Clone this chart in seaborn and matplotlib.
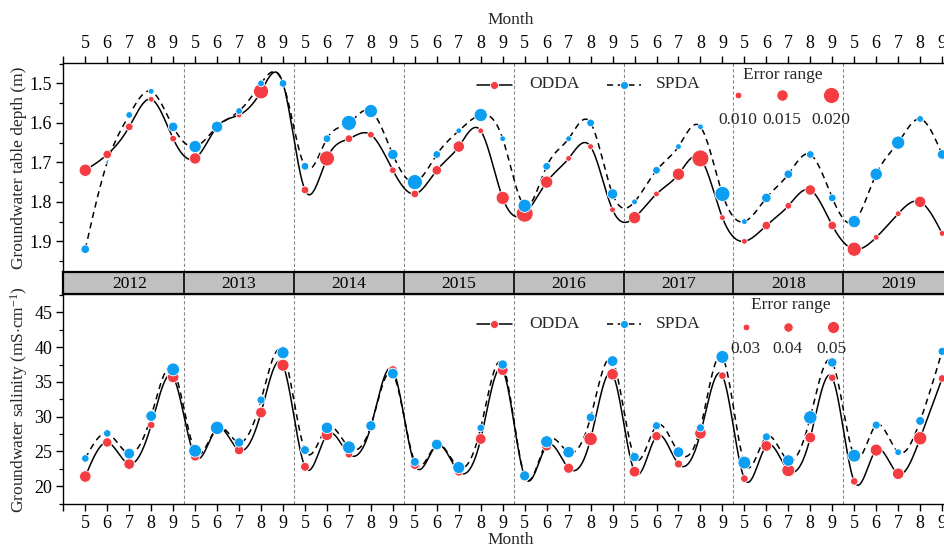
import numpy as np
import pandas as pd
import matplotlib
matplotlib.use("Agg")
import matplotlib.pyplot as plt
import seaborn as sns
from matplotlib.lines import Line2D

# ---------------- data ----------------
years = [2012, 2013, 2014, 2015, 2016, 2017, 2018, 2019]
months = [5, 6, 7, 8, 9]

depth_odda = [1.72, 1.68, 1.61, 1.54, 1.64,
              1.69, 1.61, 1.58, 1.52, 1.50,
              1.77, 1.69, 1.64, 1.63, 1.72,
              1.78, 1.72, 1.66, 1.62, 1.79,
              1.83, 1.75, 1.69, 1.66, 1.82,
              1.84, 1.78, 1.73, 1.69, 1.84,
              1.90, 1.86, 1.81, 1.77, 1.86,
              1.92, 1.89, 1.83, 1.80, 1.88]
depth_spda = [1.92, 1.70, 1.58, 1.52, 1.61,
              1.66, 1.61, 1.57, 1.50, 1.50,
              1.71, 1.64, 1.60, 1.57, 1.68,
              1.75, 1.68, 1.62, 1.58, 1.64,
              1.81, 1.71, 1.64, 1.60, 1.78,
              1.80, 1.72, 1.66, 1.61, 1.78,
              1.85, 1.79, 1.73, 1.68, 1.79,
              1.85, 1.73, 1.65, 1.59, 1.68]
depth_err_odda = [0.016, 0.012, 0.011, 0.009, 0.010,
                  0.015, 0.012, 0.009, 0.019, 0.010,
                  0.011, 0.019, 0.011, 0.010, 0.010,
                  0.011, 0.013, 0.015, 0.009, 0.017,
                  0.021, 0.016, 0.009, 0.009, 0.009,
                  0.016, 0.009, 0.016, 0.021, 0.009,
                  0.009, 0.012, 0.010, 0.014, 0.012,
                  0.018, 0.009, 0.009, 0.015, 0.009]
depth_err_spda = [0.012, 0.006, 0.010, 0.009, 0.013,
                  0.016, 0.015, 0.010, 0.010, 0.011,
                  0.011, 0.011, 0.019, 0.017, 0.014,
                  0.019, 0.011, 0.009, 0.017, 0.009,
                  0.017, 0.011, 0.009, 0.011, 0.014,
                  0.009, 0.011, 0.009, 0.009, 0.019,
                  0.009, 0.013, 0.012, 0.011, 0.011,
                  0.016, 0.016, 0.017, 0.010, 0.013]

sal_odda = [21.4, 26.3, 23.2, 28.8, 35.7,
            24.3, 28.3, 25.2, 30.6, 37.4,
            22.8, 27.4, 24.6, 28.6, 36.7,
            23.1, 25.9, 22.1, 26.8, 36.7,
            21.4, 25.8, 22.6, 26.8, 36.1,
            22.1, 27.2, 23.2, 27.6, 35.9,
            21.1, 25.8, 22.3, 27.0, 35.6,
            20.7, 25.2, 21.8, 26.9, 35.5]
sal_spda = [24.0, 27.6, 24.7, 30.1, 36.8,
            25.1, 28.4, 26.3, 32.4, 39.2,
            25.2, 28.4, 25.6, 28.7, 36.2,
            23.5, 26.0, 22.7, 28.4, 37.5,
            21.5, 26.4, 24.9, 29.9, 38.0,
            24.2, 28.7, 24.9, 28.4, 38.6,
            23.4, 27.1, 23.7, 29.9, 37.8,
            24.4, 28.8, 24.9, 29.4, 39.4]
sal_err_odda = [0.048, 0.040, 0.045, 0.033, 0.048,
                0.040, 0.040, 0.040, 0.045, 0.050,
                0.038, 0.048, 0.033, 0.038, 0.038,
                0.040, 0.040, 0.038, 0.045, 0.045,
                0.040, 0.043, 0.043, 0.055, 0.048,
                0.045, 0.040, 0.035, 0.048, 0.033,
                0.033, 0.045, 0.053, 0.045, 0.033,
                0.033, 0.050, 0.048, 0.055, 0.033]
sal_err_spda = [0.033, 0.033, 0.045, 0.045, 0.053,
                0.053, 0.055, 0.040, 0.035, 0.050,
                0.038, 0.048, 0.053, 0.043, 0.045,
                0.038, 0.045, 0.050, 0.033, 0.040,
                0.043, 0.050, 0.048, 0.038, 0.045,
                0.040, 0.035, 0.045, 0.035, 0.053,
                0.053, 0.035, 0.048, 0.055, 0.040,
                0.053, 0.035, 0.030, 0.038, 0.035]

depth_legend_err = [0.010, 0.015, 0.020]
sal_legend_err = [0.03, 0.04, 0.05]
depth_ticks = [1.5, 1.6, 1.7, 1.8, 1.9]
sal_ticks = [20, 25, 30, 35, 40, 45]

RED = "#F33D42"
BLUE = "#0C9EF2"

# ---------------- style ----------------
sns.set_theme(style="ticks")
plt.rcParams["font.family"] = ["Liberation Serif", "DejaVu Serif"]
plt.rcParams["mathtext.fontset"] = "custom"
plt.rcParams["mathtext.rm"] = "Liberation Serif"
plt.rcParams["mathtext.it"] = "Liberation Serif:italic"
FS = 12.5
TFS = 13

W, H = 945, 549
fig = plt.figure(figsize=(W / 100, H / 100), dpi=100)


def rect(l, t, r, b):
    return [l / W, 1 - b / H, (r - l) / W, (b - t) / H]


L, R = 63.3, 953.1
ax1 = fig.add_axes(rect(L, 63.3, R, 272.5))
axb = fig.add_axes(rect(L, 272.5, R, 294.3))
ax2 = fig.add_axes(rect(L, 294.3, R, 504.0))

n = len(years) * len(months)
xpos = np.arange(n)
month_labels = [str(m) for _ in years for m in months]


def natural_spline(x, y, xs):
    x = np.asarray(x, float)
    y = np.asarray(y, float)
    m = len(x)
    h = np.diff(x)
    A = np.zeros((m, m))
    b = np.zeros(m)
    A[0, 0] = 1
    A[-1, -1] = 1
    for i in range(1, m - 1):
        A[i, i - 1] = h[i - 1]
        A[i, i] = 2 * (h[i - 1] + h[i])
        A[i, i + 1] = h[i]
        b[i] = 3 * ((y[i + 1] - y[i]) / h[i] - (y[i] - y[i - 1]) / h[i - 1])
    c = np.linalg.solve(A, b)
    bb = (y[1:] - y[:-1]) / h - h * (2 * c[:-1] + c[1:]) / 3
    d = (c[1:] - c[:-1]) / (3 * h)
    idx = np.clip(np.searchsorted(x, xs) - 1, 0, m - 2)
    dx = xs - x[idx]
    return y[idx] + bb[idx] * dx + c[idx] * dx ** 2 + d[idx] * dx ** 3


def area_from_diam(dpx):
    return (np.asarray(dpx) * 0.72) ** 2


xs = np.linspace(0, n - 1, 1200)


def draw_panel(ax, odda, spda, e_odda, e_spda, diam_fn):
    for vals, ls in ((odda, "-"), (spda, (0, (4, 3)))):
        ys = natural_spline(xpos, vals, xs)
        sns.lineplot(x=xs, y=ys, ax=ax, color="black", lw=1.1,
                     linestyle=ls, sort=False, zorder=2)
    for vals, errs, col, z in ((odda, e_odda, RED, 3), (spda, e_spda, BLUE, 4)):
        df = pd.DataFrame({"x": xpos, "y": vals,
                           "s": area_from_diam(diam_fn(np.array(errs)))})
        sns.scatterplot(data=df, x="x", y="y", size="s", sizes=(0, 1000),
                        size_norm=(0, 1000), color=col, edgecolor="white",
                        linewidth=0.6, legend=False, ax=ax, zorder=z)
    for bnd in np.arange(4.5, n - 1, 5):
        ax.axvline(bnd, color="#8a8a8a", lw=0.8, ls=(0, (3, 2)), zorder=1)
    ax.set_xlim(-1, n - 0.5)


def depth_diam(e):
    return 6.7 + (e - 0.010) * 930


def sal_diam(e):
    return 6.7 + (e - 0.03) * 267


draw_panel(ax1, depth_odda, depth_spda, depth_err_odda, depth_err_spda, depth_diam)
draw_panel(ax2, sal_odda, sal_spda, sal_err_odda, sal_err_spda, sal_diam)

# ---- axes formatting ----
xt = list(range(-1, n))
xl = [""] + month_labels
for ax in (ax1, ax2):
    ax.set_xticks(xt)
    ax.set_xticklabels(xl, fontsize=TFS)
    ax.set_xlabel("")
    ax.set_ylabel("")
    for s in ax.spines.values():
        s.set_linewidth(1.0)
        s.set_color("black")
    ax.tick_params(axis="both", which="major", direction="out", length=5,
                   width=1.0, colors="black", labelsize=TFS, pad=3)
    ax.tick_params(axis="y", which="minor", direction="out", length=3,
                   width=0.9, colors="black")

ax1.set_ylim(1.979, 1.449)
ax1.set_yticks(depth_ticks)
ax1.set_yticklabels([f"{v:.1f}" for v in depth_ticks])
ax1.set_yticks(np.arange(1.45, 1.98, 0.05), minor=True)
ax1.xaxis.tick_top()
ax1.tick_params(axis="x", top=True, bottom=False, labeltop=True, labelbottom=False)

ax2.set_ylim(17.45, 47.6)
ax2.set_yticks(sal_ticks)
ax2.set_yticklabels([str(v) for v in sal_ticks])
ax2.set_yticks(np.arange(17.5, 47.6, 2.5), minor=True)
ax2.tick_params(axis="x", top=False, bottom=True, labelbottom=True)

# ---- year band ----
axb.set_xlim(-1, n - 0.5)
axb.set_ylim(0, 1)
axb.set_facecolor("#C0C0C0")
axb.set_xticks([])
axb.set_yticks([])
for s in axb.spines.values():
    s.set_linewidth(1.6)
    s.set_color("black")
for bnd in np.arange(4.5, n - 1, 5):
    axb.axvline(bnd, color="black", lw=1.2)
for i, yr in enumerate(years):
    axb.text(i * 5 + 2, 0.45, str(yr), ha="center", va="center", fontsize=FS,
             color="black")

# ---- labels ----
fig.text(19 / W, 1 - 167.9 / H, "Groundwater table depth (m)", rotation=90,
         ha="center", va="center", fontsize=FS)
fig.text(19 / W, 1 - 399.2 / H, r"Groundwater salinity (mS$\cdot$cm$^{-1}$)",
         rotation=90, ha="center", va="center", fontsize=FS)
fig.text(510.5 / W, 1 - 20.5 / H, "Month", ha="center", va="center", fontsize=FS)
fig.text(510.5 / W, 1 - 547.5 / H, "Month", ha="center", va="bottom", fontsize=FS)


# ---- custom legends ----
def fx(v):
    return v / W


def fy(v):
    return 1 - v / H


def legend_block(y_series, y_title, y_marks, y_labels, title_x, mark_xs,
                 label_xs, errs, diam_fn, fmt):
    # ODDA
    fig.add_artist(Line2D([fx(477), fx(512)], [fy(y_series)] * 2,
                          transform=fig.transFigure, color="black", lw=1.1))
    fig.add_artist(Line2D([fx(494.5)], [fy(y_series)], transform=fig.transFigure,
                          marker="o", ms=8 * 0.72, mfc=RED, mec="white", mew=0.6,
                          ls="none"))
    fig.text(fx(529), fy(y_series), "ODDA", ha="left", va="center", fontsize=FS)
    # SPDA
    fig.add_artist(Line2D([fx(607), fx(641)], [fy(y_series)] * 2,
                          transform=fig.transFigure, color="black", lw=1.1,
                          ls=(0, (4, 3))))
    fig.add_artist(Line2D([fx(624)], [fy(y_series)], transform=fig.transFigure,
                          marker="o", ms=8 * 0.72, mfc=BLUE, mec="white", mew=0.6,
                          ls="none"))
    fig.text(fx(656), fy(y_series), "SPDA", ha="left", va="center", fontsize=FS)
    # error range
    fig.text(fx(title_x), fy(y_title), "Error range", ha="center", va="center",
             fontsize=FS)
    for mx, lx, e in zip(mark_xs, label_xs, errs):
        fig.add_artist(Line2D([fx(mx)], [fy(y_marks)], transform=fig.transFigure,
                              marker="o", ms=diam_fn(e) * 0.72, mfc=RED,
                              mec="white", mew=0.6, ls="none"))
        fig.text(fx(lx), fy(y_labels), fmt.format(e), ha="center", va="center",
                 fontsize=FS)


legend_block(84.5, 75, 95, 119.5, 783, [738.3, 782, 831], [738.3, 782, 831],
             depth_legend_err, depth_diam, "{:.3f}")
legend_block(324.3, 305, 326.7, 349, 790.7, [745.7, 787.7, 832.7],
             [745.7, 787.7, 831.7], sal_legend_err, sal_diam, "{:.2f}")

fig.savefig("out.png", dpi=100)
